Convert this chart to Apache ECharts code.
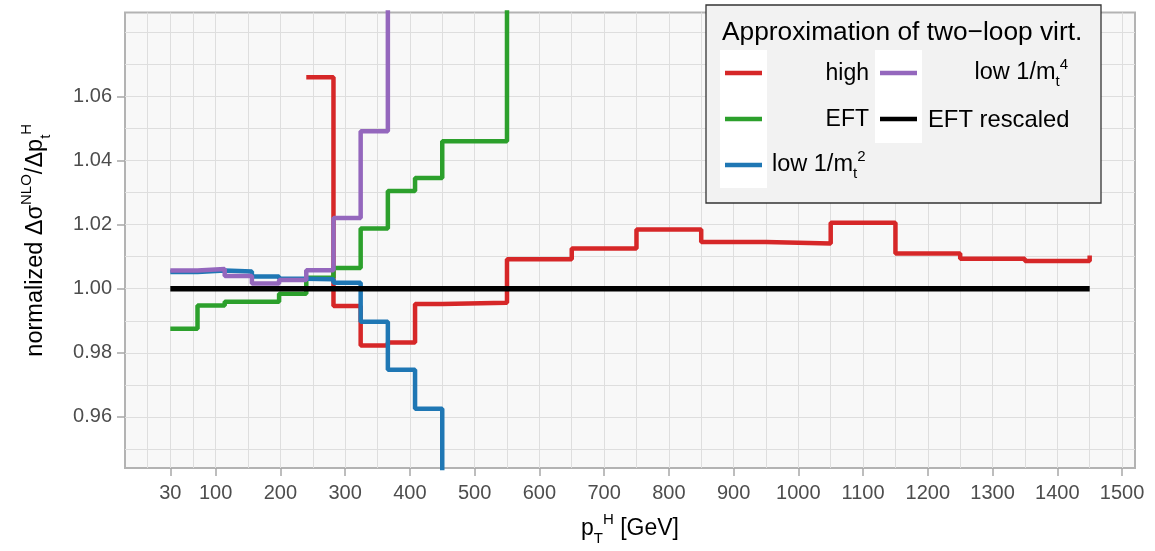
<!DOCTYPE html>
<html><head><meta charset="utf-8">
<script src="https://cdn.jsdelivr.net/npm/echarts@6/dist/echarts.min.js"></script>
<style>html,body{margin:0;padding:0;background:#fff}#c{width:1155px;height:551px}</style>
</head><body><div id="c"></div>
<script>
// ---- data (bin left edges and step values; last point = end edge) ----
const xHigh = [240,282,324,366,408,450,550,650,750,850,950,1050,1150,1250,1350,1450];
const valHigh = [1.0661,0.9946,0.9823,0.9832,0.9952,0.9956,1.0092,1.0126,1.0185,1.0146,1.0141,1.0206,1.0110,1.0094,1.0087,1.0104];
const xEFT = [30,72,114,156,198,240,282,324,366,408,450,550];
const valEFT = [0.9875,0.9948,0.9959,0.9959,0.9984,1.0034,1.0065,1.0188,1.0305,1.0346,1.0461,1.12];
const xLow2 = [30,72,114,156,198,240,282,324,366,408,450];
const valLow2 = [1.0052,1.0057,1.0054,1.0038,1.0031,1.0030,1.0019,0.9897,0.9747,0.9625,0.90];
const xLow4 = [30,72,114,156,198,240,282,324,366];
const valLow4 = [1.0057,1.0062,1.0040,1.0016,1.0027,1.0058,1.0221,1.0492,1.12];
const xRescaled = [30,1450];
const valRescaled = [1.0,1.0];

const xTicks = [30,100,200,300,400,500,600,700,800,900,1000,1100,1200,1300,1400,1500];
const yTicks = [0.96,0.98,1.00,1.02,1.04,1.06];
const xGrid = [-5,30,65,100,150,200,250,300,350,400,450,500,550,600,650,700,750,800,850,900,950,1000,1050,1100,1150,1200,1250,1300,1350,1400,1450,1500];
const yGrid = [0.95,0.96,0.97,0.98,0.99,1.00,1.01,1.02,1.03,1.04,1.05,1.06,1.07,1.08];

const seriesNames = ['high','EFT','low 1/m_t^2','low 1/m_t^4','EFT rescaled'];
const colors = ['#d62728','#2ca02c','#1f77b4','#9467bd','#000000'];

const FF = '"Liberation Sans", Arial, Helvetica, sans-serif';
const pairs = (xs, vs) => xs.map((x, i) => [x, vs[i]]);

const chart = echarts.init(document.getElementById('c'), null, {renderer: 'canvas'});

function stepSeries(name, xs, vs, color, width) {
  return {
    name, type: 'line', step: 'end', data: pairs(xs, vs),
    showSymbol: false, symbol: 'none', clip: true, z: 3,
    lineStyle: {color, width},
    emphasis: {disabled: true}, animation: false
  };
}

const gridSeries = {
  type: 'line', data: [], silent: true, z: 1, animation: false,
  markLine: {
    silent: true, z: 1, symbol: ['none','none'], animation: false,
    label: {show: false},
    emphasis: {disabled: true},
    lineStyle: {color: '#dedede', width: 1, type: 'solid'},
    data: xGrid.map(v => ({xAxis: v})).concat(yGrid.map(v => ({yAxis: v})))
  }
};

const supS = {fontSize: 15, fontFamily: FF, color: '#000', verticalAlign: 'top', lineHeight: 15};
const subS = {fontSize: 15, fontFamily: FF, color: '#000', verticalAlign: 'bottom', lineHeight: 15};
const gSup = {font: '15px ' + FF, fill: '#000', verticalAlign: 'top', lineHeight: 15};
const gSub = {font: '15px ' + FF, fill: '#000', verticalAlign: 'bottom', lineHeight: 15};

const option = {
  backgroundColor: '#ffffff',
  animation: false,
  grid: {left: 125, top: 12.5, right: 20, bottom: 78, show: true,
         backgroundColor: '#f8f8f8', borderColor: '#b3b3b3', borderWidth: 2},
  xAxis: {
    type: 'value', min: -40, max: 1520,
    name: 'p{sub|T}{sup|H} [GeV]', nameLocation: 'middle', nameGap: 44,
    nameTextStyle: {fontSize: 23, fontFamily: FF, color: '#000', lineHeight: 34,
      rich: {sup: supS, sub: subS}},
    axisLine: {show: false, onZero: false},
    axisTick: {show: true, customValues: xTicks, length: 8, lineStyle: {color: '#a8a8a8', width: 1.5}},
    axisLabel: {customValues: xTicks, fontSize: 20, fontFamily: FF, color: '#4d4d4d', margin: 15,
      formatter: v => String(v)},
    splitLine: {show: false}
  },
  yAxis: {
    type: 'value', min: 0.944, max: 1.0863,
    name: 'normalized Δσ{sup|NLO}/Δp{sub|t}{sup|H}', nameLocation: 'middle', nameGap: 72,
    nameTextStyle: {fontSize: 23.5, fontFamily: FF, color: '#000', lineHeight: 34,
      rich: {sup: supS, sub: subS}},
    axisLine: {show: false, onZero: false},
    axisTick: {show: true, customValues: yTicks, length: 8, lineStyle: {color: '#a8a8a8', width: 1.5}},
    axisLabel: {customValues: yTicks, fontSize: 20, fontFamily: FF, color: '#4d4d4d', margin: 13,
      formatter: v => Number(v).toFixed(2)},
    splitLine: {show: false}
  },
  series: [
    gridSeries,
    stepSeries(seriesNames[0], xHigh, valHigh, colors[0], 4.5),
    stepSeries(seriesNames[1], xEFT, valEFT, colors[1], 4.5),
    stepSeries(seriesNames[2], xLow2, valLow2, colors[2], 4.5),
    stepSeries(seriesNames[3], xLow4, valLow4, colors[3], 4.5),
    stepSeries(seriesNames[4], xRescaled, valRescaled, colors[4], 5.5)
  ],
  graphic: {
    elements: [
      {type: 'rect', z: 100, silent: true, shape: {x: 706, y: 5, width: 395, height: 198},
       style: {fill: '#f2f2f2', stroke: '#333333', lineWidth: 1.3}},
      {type: 'rect', z: 101, silent: true, shape: {x: 720, y: 50, width: 47, height: 138}, style: {fill: '#ffffff'}},
      {type: 'rect', z: 101, silent: true, shape: {x: 875, y: 50, width: 47, height: 93}, style: {fill: '#ffffff'}},
      {type: 'line', z: 102, silent: true, shape: {x1: 725, y1: 73, x2: 762, y2: 73}, style: {stroke: colors[0], lineWidth: 4.5}},
      {type: 'line', z: 102, silent: true, shape: {x1: 725, y1: 119, x2: 762, y2: 119}, style: {stroke: colors[1], lineWidth: 4.5}},
      {type: 'line', z: 102, silent: true, shape: {x1: 725, y1: 165, x2: 762, y2: 165}, style: {stroke: colors[2], lineWidth: 4.5}},
      {type: 'line', z: 102, silent: true, shape: {x1: 880, y1: 73, x2: 917, y2: 73}, style: {stroke: colors[3], lineWidth: 4.5}},
      {type: 'line', z: 102, silent: true, shape: {x1: 880, y1: 119, x2: 917, y2: 119}, style: {stroke: colors[4], lineWidth: 4.5}},
      {type: 'text', z: 102, silent: true, style: {text: 'Approximation of two−loop virt.', x: 722, y: 33,
        font: '26.3px ' + FF, fill: '#000', align: 'left', verticalAlign: 'middle'}},
      {type: 'text', z: 102, silent: true, style: {text: 'high', x: 869, y: 74, font: '23px ' + FF, fill: '#000',
        align: 'right', verticalAlign: 'middle'}},
      {type: 'text', z: 102, silent: true, style: {text: 'EFT', x: 869, y: 120, font: '23px ' + FF, fill: '#000',
        align: 'right', verticalAlign: 'middle'}},
      {type: 'text', z: 102, silent: true, style: {text: 'low 1/m{sub|t}{sup|2}', x: 772, y: 165, font: '23.5px ' + FF, fill: '#000',
        align: 'left', verticalAlign: 'middle', lineHeight: 32, rich: {sup: gSup, sub: gSub}}},
      {type: 'text', z: 102, silent: true, style: {text: 'low 1/m{sub|t}{sup|4}', x: 1068, y: 73, font: '23.5px ' + FF, fill: '#000',
        align: 'right', verticalAlign: 'middle', lineHeight: 32, rich: {sup: gSup, sub: gSub}}},
      {type: 'text', z: 102, silent: true, style: {text: 'EFT rescaled', x: 928, y: 120, font: '23.8px ' + FF, fill: '#000',
        align: 'left', verticalAlign: 'middle'}}
    ]
  }
};
chart.setOption(option);
</script></body></html>
